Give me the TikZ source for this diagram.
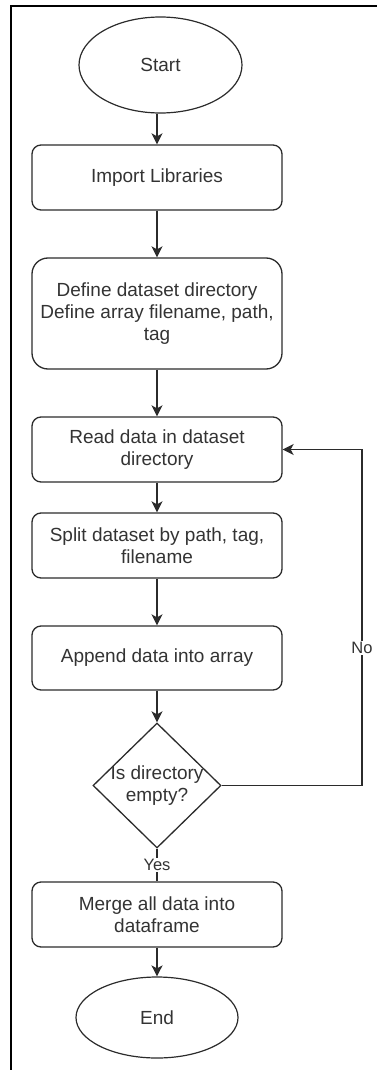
\documentclass[tikz,border=0pt]{standalone}
\usepackage{fontspec}
\setmainfont{Liberation Sans}
\usetikzlibrary{shapes.geometric,arrows.meta}
\definecolor{linec}{HTML}{2B2B2B}
\definecolor{textc}{HTML}{333333}
\begin{document}
\begin{tikzpicture}[x=1pt,y=-1pt,
  proc/.style={draw=linec, line width=1.3pt, rounded corners=9pt, minimum width=250pt, minimum height=65pt, align=center, font=\fontsize{19}{22}\selectfont, text=textc, inner sep=0pt},
  term/.style={draw=linec, ellipse, line width=1.2pt, inner sep=0pt, font=\fontsize{19}{22}\selectfont, text=textc},
  dec/.style={draw=linec, diamond, line width=1.3pt, inner sep=0pt, minimum width=128pt, minimum height=125pt},
  flow/.style={draw=linec, line width=1.8pt, -{Stealth[length=11pt,width=11pt,inset=3pt]}},
  loopline/.style={draw=linec, line width=1.3pt, -{Stealth[length=11pt,width=11pt,inset=3pt]}},
  plain/.style={draw=linec, line width=1.8pt},
  lab/.style={fill=white, font=\fontsize{16.5}{18}\selectfont, text=textc, inner sep=1pt}
]
\useasboundingbox (0,0) rectangle (377,1070);
\draw[line width=2pt, black] (377,6) -- (11,6) -- (11,1070);

\node[term, minimum width=163pt, minimum height=96pt] (start) at (160.5,65) {Start};
\node[proc] (imp) at (157,177.5) {Import Libraries};
\node[proc, minimum height=111pt, rounded corners=16pt] (def) at (157,313.5) {Define dataset directory\\Define array filename, path,\\tag};
\node[proc] (read) at (157,449.5) {Read data in dataset\\directory};
\node[proc] (split) at (157,545.5) {Split dataset by path, tag,\\filename};
\node[proc, minimum height=64pt] (app) at (157,658) {Append data into array};
\node[dec, label={[align=center, font=\fontsize{19}{22}\selectfont, text=textc]center:Is directory\\empty?}] (dec) at (157,785.5) {};
\node[proc] (merge) at (157,914.5) {Merge all data into\\dataframe};
\node[term, minimum width=162pt, minimum height=81pt] (end) at (157,1017.5) {End};

\coordinate (c2) at (362,449.5);

\draw[flow] (start.south -| imp.north) -- (imp.north);
\draw[flow] (imp) -- (def);
\draw[flow] (def) -- (read);
\draw[flow] (read) -- (split);
\draw[flow] (split) -- (app);
\draw[flow] (app) -- (dec);
\draw[plain] (dec.south) -- node[lab] {Yes} (merge.north);
\draw[flow] (merge) -- (end);
\draw[loopline] (dec.east) -- (dec.east -| c2) -- node[lab, pos=0.41] {No} (c2) -- (read.east);
\end{tikzpicture}
\end{document}
